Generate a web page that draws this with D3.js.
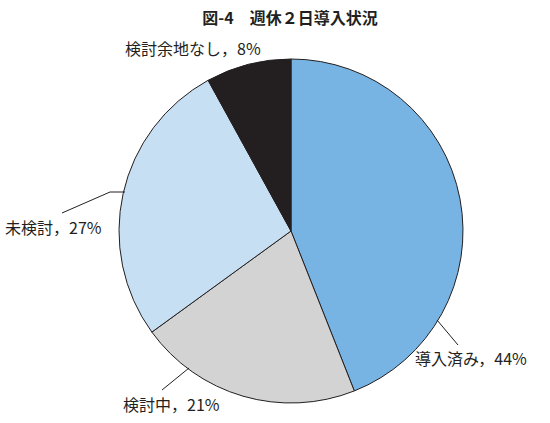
<!DOCTYPE html>
<html><head><meta charset="utf-8">
<script src="https://cdn.jsdelivr.net/npm/d3@7"></script>
<style>
body{margin:0;background:#fff;}
text{font-family:"Noto Sans CJK JP","Noto Sans",sans-serif;fill:#231f20;}
</style></head>
<body><svg id="chart" width="550" height="423"></svg>
<script>
const CATEGORIES = ['導入済み', '検討中', '未検討', '検討余地なし'];
const VALUES = [44, 21, 27, 8];
const COLORS = ['#78b4e3', '#d3d3d4', '#c7dff3', '#231f20'];

const svg = d3.select('#chart');
const cx = 291, cy = 231, r = 172;

svg.append('text').attr('x', 290).attr('y', 24).attr('text-anchor', 'middle')
	.attr('font-size', 16).attr('font-weight', 'bold').text('図-4　週休２日導入状況');

const pie = d3.pie().sort(null)(VALUES);
const arc = d3.arc().innerRadius(0).outerRadius(r);
const g = svg.append('g').attr('transform', `translate(${cx},${cy})`);

g.selectAll('path').data(pie).enter().append('path')
	.attr('d', arc)
	.attr('fill', (d, i) => COLORS[i])
	.attr('stroke', '#231f20').attr('stroke-width', 1);

// label placement per slice: leader polyline and text anchor point (relative to centre)
const layout = [
	{ line: [[146, 89], [167, 114]], text: [124, 134], anchor: 'start' },
	{ line: [[-102, 137], [-129, 159]], text: [-168, 180], anchor: 'start' },
	{ line: [[-166, -39], [-181, -39], [-229, -18]], text: [-286, 3], anchor: 'start' },
	{ line: null, text: [-166, -176], anchor: 'start' }
];

pie.forEach((d, i) => {
	const L = layout[i];
	if (L.line) {
		g.append('path').attr('d', d3.line()(L.line))
			.attr('fill', 'none').attr('stroke', '#231f20').attr('stroke-width', 1);
	}
	g.append('text').attr('x', L.text[0]).attr('y', L.text[1])
		.attr('text-anchor', L.anchor).attr('font-size', 16)
		.text(`${CATEGORIES[i]}，${VALUES[i]}%`);
});
</script></body></html>
